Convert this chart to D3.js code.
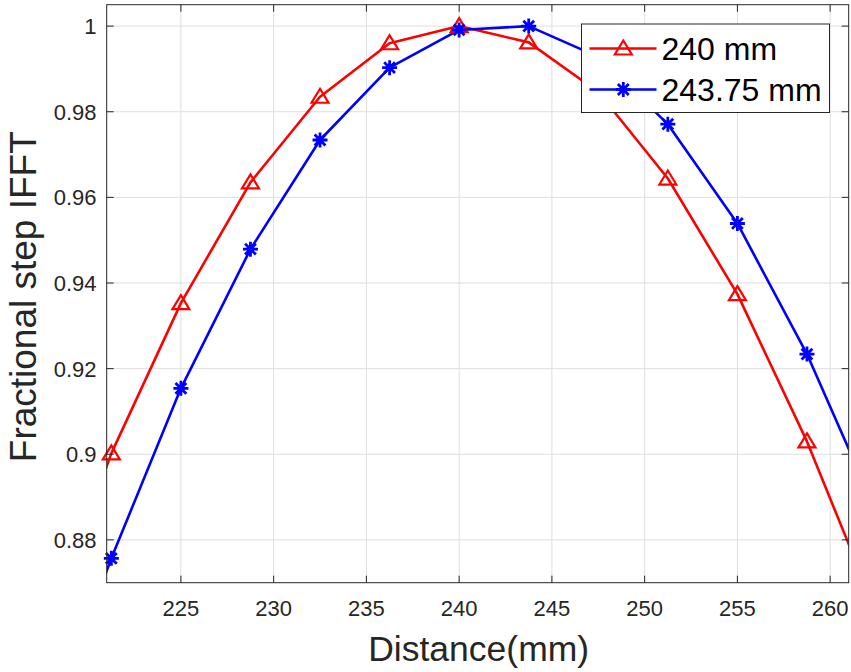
<!DOCTYPE html>
<html>
<head>
<meta charset="utf-8">
<script src="https://cdn.jsdelivr.net/npm/d3@7"></script>
<style>
  html, body { margin: 0; padding: 0; background: #fff; }
  svg { display: block; }
  text { font-family: "Liberation Sans", Arial, Helvetica, sans-serif; }
</style>
</head>
<body>
<svg id="chart" width="851" height="672"></svg>
<script>
// ---- data ----
const distances = [217.5, 221.25, 225, 228.75, 232.5, 236.25, 240, 243.75, 247.5, 251.25, 255, 258.75, 262.5];
const series240 = [0.855, 0.9002, 0.9353, 0.9635, 0.9835, 0.9960, 1.0000, 0.9962, 0.9846, 0.9644, 0.9374, 0.9030, 0.863];
const series24375 = [0.832, 0.8757, 0.9154, 0.9479, 0.9734, 0.9903, 0.9991, 1.0000, 0.9928, 0.9771, 0.9539, 0.9234, 0.8865];
const seriesNames = ["240 mm", "243.75 mm"];
const seriesColors = ["#ff0000", "#0000ff"];
const xTicks = [225, 230, 235, 240, 245, 250, 255, 260];
const yTicks = [0.88, 0.9, 0.92, 0.94, 0.96, 0.98, 1];
const xDomain = [221, 261];
const yDomain = [0.87, 1.005];
const xLabel = "Distance(mm)";
const yLabel = "Fractional step IFFT";

// ---- layout ----
const L = 106.7, R = 848.7, T = 4.7, B = 582.7;
const axisColor = "#262626";
const gridColor = "#dfdfdf";
const tickLen = 7;

const svg = d3.select("#chart");
const x = d3.scaleLinear().domain(xDomain).range([L, R]);
const y = d3.scaleLinear().domain(yDomain).range([B, T]);

// grid
const grid = svg.append("g");
grid.selectAll(".gx").data(xTicks).enter().append("line")
  .attr("x1", d => x(d)).attr("x2", d => x(d)).attr("y1", T).attr("y2", B)
  .attr("stroke", gridColor).attr("stroke-width", 1);
grid.selectAll(".gy").data(yTicks).enter().append("line")
  .attr("y1", d => y(d)).attr("y2", d => y(d)).attr("x1", L).attr("x2", R)
  .attr("stroke", gridColor).attr("stroke-width", 1);

// clip
svg.append("clipPath").attr("id", "clip").append("rect")
  .attr("x", L).attr("y", T).attr("width", R - L).attr("height", B - T);

const allSeries = [series240, series24375];
const lineGen = d3.line().x((d, i) => x(distances[i])).y(d => y(d));

allSeries.forEach((s, k) => {
  svg.append("path").datum(s)
    .attr("d", lineGen)
    .attr("fill", "none")
    .attr("stroke", seriesColors[k])
    .attr("stroke-width", 2.6)
    .attr("stroke-linejoin", "round")
    .attr("clip-path", "url(#clip)");
});

// markers
function triangle(g, cx, cy, color) {
  const w = 8.5, h = 14;
  g.append("path")
    .attr("d", `M${cx},${cy - h / 2 - 1}L${cx + w},${cy + h / 2 - 1}L${cx - w},${cy + h / 2 - 1}Z`)
    .attr("fill", "none").attr("stroke", color).attr("stroke-width", 2.2)
    .attr("stroke-linejoin", "miter");
}
function star(g, cx, cy, color) {
  const r = 7.5, rd = r * 0.72;
  const p = `M${cx - r},${cy}L${cx + r},${cy}M${cx},${cy - r}L${cx},${cy + r}` +
            `M${cx - rd},${cy - rd}L${cx + rd},${cy + rd}M${cx - rd},${cy + rd}L${cx + rd},${cy - rd}`;
  g.append("path").attr("d", p).attr("fill", "none").attr("stroke", color).attr("stroke-width", 2.8);
}
const markerFns = [triangle, star];
allSeries.forEach((s, k) => {
  const g = svg.append("g");
  s.forEach((v, i) => {
    const dx = distances[i];
    if (dx < xDomain[0] || dx > xDomain[1] || v < yDomain[0] || v > yDomain[1]) return;
    markerFns[k](g, x(dx), y(v), seriesColors[k]);
  });
});

// axes box + ticks
const ax = svg.append("g");
ax.append("rect").attr("x", L).attr("y", T).attr("width", R - L).attr("height", B - T)
  .attr("fill", "none").attr("stroke", axisColor).attr("stroke-width", 1);
xTicks.forEach(t => {
  ax.append("line").attr("x1", x(t)).attr("x2", x(t)).attr("y1", B).attr("y2", B - tickLen)
    .attr("stroke", axisColor);
  ax.append("line").attr("x1", x(t)).attr("x2", x(t)).attr("y1", T).attr("y2", T + tickLen)
    .attr("stroke", axisColor);
  ax.append("text").attr("x", x(t)).attr("y", 616).attr("text-anchor", "middle")
    .attr("font-size", 22).attr("fill", axisColor).text(d3.format("d")(t));
});
yTicks.forEach(t => {
  ax.append("line").attr("x1", L).attr("x2", L + tickLen).attr("y1", y(t)).attr("y2", y(t))
    .attr("stroke", axisColor);
  ax.append("line").attr("x1", R).attr("x2", R - tickLen).attr("y1", y(t)).attr("y2", y(t))
    .attr("stroke", axisColor);
  ax.append("text").attr("x", 96.5).attr("y", y(t)).attr("dy", "0.36em").attr("text-anchor", "end")
    .attr("font-size", 22).attr("fill", axisColor).text(String(t));
});

// axis labels
svg.append("text").attr("x", (L + R) / 2 + 1).attr("y", 661).attr("text-anchor", "middle")
  .attr("font-size", 35.5).attr("fill", axisColor).text(xLabel);
svg.append("text").attr("transform", `translate(36,${(T + B) / 2 + 3}) rotate(-90)`)
  .attr("text-anchor", "middle").attr("font-size", 37).attr("fill", axisColor).text(yLabel);

// legend
const lg = svg.append("g");
const lgX = 581.5, lgY = 24, lgW = 248, lgH = 88.5;
lg.append("rect").attr("x", lgX).attr("y", lgY).attr("width", lgW).attr("height", lgH)
  .attr("fill", "#fff").attr("stroke", axisColor).attr("stroke-width", 1);
const rowY = [48.5, 89.5];
seriesNames.forEach((name, k) => {
  lg.append("line").attr("x1", 589.5).attr("x2", 656.5).attr("y1", rowY[k]).attr("y2", rowY[k])
    .attr("stroke", seriesColors[k]).attr("stroke-width", 2.6);
  markerFns[k](lg, 623.3, rowY[k], seriesColors[k]);
  lg.append("text").attr("x", 661.5).attr("y", rowY[k]).attr("dy", "0.36em")
    .attr("font-size", 32).attr("fill", "#000").text(name);
});
</script>
</body>
</html>
